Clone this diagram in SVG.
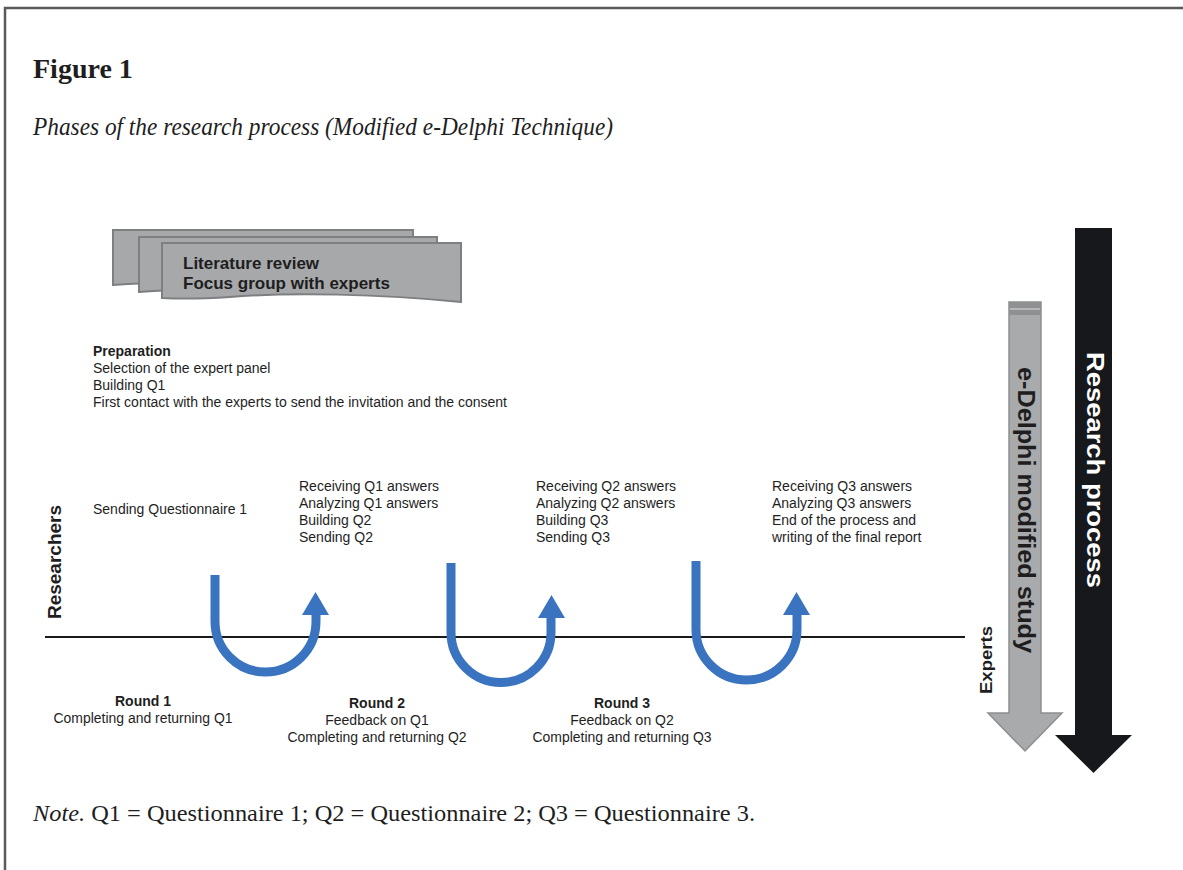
<svg xmlns="http://www.w3.org/2000/svg" width="1183" height="870" viewBox="0 0 1183 870">
<defs>
<style>
.sans{font-family:"Liberation Sans",Arial,sans-serif;fill:#1e1e1e}
.serif{font-family:"Liberation Serif","Times New Roman",serif;fill:#1e1e1e}
.t14{font-size:14px}
.b{font-weight:bold}
.doc{fill:#a7a8aa;stroke:#7e7f81;stroke-width:2}
.u{fill:none;stroke:#3a73bf;stroke-width:9}
.head{fill:#3a73bf}
</style>
</defs>
<rect width="1183" height="870" fill="#ffffff"/>
<path d="M5,870 V8 H1183" fill="none" stroke="#5a5a5a" stroke-width="2.5"/>

<text class="serif b" x="33" y="78" font-size="28">Figure 1</text>
<text class="serif" x="33" y="135" font-size="26" font-style="italic" textLength="580" lengthAdjust="spacingAndGlyphs">Phases of the research process (Modified e-Delphi Technique)</text>

<g id="lit-review">
<path class="doc" d="M113,230 H413 V283 C330,290 200,278 113,285 Z"/>
<path class="doc" d="M139,237 H437 V290 C350,297 220,285 139,292 Z"/>
<path class="doc" d="M162,243 H461 V302 C380,294 290,292 230,297 C200,299 180,299 162,298 Z"/>
<text class="sans b" x="183" y="269" font-size="17">Literature review</text>
<text class="sans b" x="183" y="289" font-size="17">Focus group with experts</text>
</g>

<g id="preparation" class="sans t14">
<text class="b" x="93" y="356">Preparation</text>
<text x="93" y="373">Selection of the expert panel</text>
<text x="93" y="390">Building Q1</text>
<text x="93" y="407">First contact with the experts to send the invitation and the consent</text>
</g>

<g id="researchers-label">
<text class="sans b" transform="translate(61,562) rotate(-90)" text-anchor="middle" font-size="19">Researchers</text>
</g>

<g id="send-q1" class="sans t14">
<text x="93" y="514">Sending Questionnaire 1</text>
</g>
<g id="step-q1" class="sans t14">
<text x="299" y="491">Receiving Q1 answers</text>
<text x="299" y="508">Analyzing Q1 answers</text>
<text x="299" y="525">Building Q2</text>
<text x="299" y="542">Sending Q2</text>
</g>
<g id="step-q2" class="sans t14">
<text x="536" y="491">Receiving Q2 answers</text>
<text x="536" y="508">Analyzing Q2 answers</text>
<text x="536" y="525">Building Q3</text>
<text x="536" y="542">Sending Q3</text>
</g>
<g id="step-q3" class="sans t14">
<text x="772" y="491">Receiving Q3 answers</text>
<text x="772" y="508">Analyzing Q3 answers</text>
<text x="772" y="525">End of the process and</text>
<text x="772" y="542">writing of the final report</text>
</g>

<g id="connectors">
<line x1="45" y1="637" x2="965" y2="637" stroke="#1a1a1a" stroke-width="2"/>
<path class="u" d="M215,575 V621.5 A50.5,50.5 0 0 0 316,621.5 V612"/>
<polygon class="head" points="302,615 329,615 315.5,592"/>
<path class="u" d="M451,563 V632.5 A50,50 0 0 0 551,632.5 V615"/>
<polygon class="head" points="538,618 565,618 551.5,595"/>
<path class="u" d="M696,561 V629.5 A50.5,50.5 0 0 0 797,629.5 V612"/>
<polygon class="head" points="783,615 810,615 796.5,592"/>
</g>

<g id="round1" class="sans t14" text-anchor="middle">
<text class="b" x="143" y="706">Round 1</text>
<text x="143" y="723" textLength="179" lengthAdjust="spacingAndGlyphs">Completing and returning Q1</text>
</g>
<g id="round2" class="sans t14" text-anchor="middle">
<text class="b" x="377" y="708">Round 2</text>
<text x="377" y="725">Feedback on Q1</text>
<text x="377" y="742" textLength="179" lengthAdjust="spacingAndGlyphs">Completing and returning Q2</text>
</g>
<g id="round3" class="sans t14" text-anchor="middle">
<text class="b" x="622" y="708">Round 3</text>
<text x="622" y="725">Feedback on Q2</text>
<text x="622" y="742" textLength="179" lengthAdjust="spacingAndGlyphs">Completing and returning Q3</text>
</g>

<g id="experts-label">
<text class="sans b" transform="translate(992,660) rotate(-90)" text-anchor="middle" font-size="17" textLength="68" lengthAdjust="spacingAndGlyphs">Experts</text>
</g>

<g id="delphi-arrow">
<polygon points="1009,302 1041,302 1041,713 1062,713 1025,751 988,713 1009,713" fill="#a9aaac" stroke="#8d8e90" stroke-width="1.5"/>
<rect x="1009" y="302" width="32" height="13" fill="#8e9092"/>
<line x1="1010" y1="309" x2="1040" y2="309" stroke="#c4c5c7" stroke-width="1.5"/>
<text class="sans b" transform="translate(1018,510) rotate(90)" text-anchor="middle" font-size="23" fill="#1a1a1a" textLength="286" lengthAdjust="spacingAndGlyphs">e-Delphi modified study</text>
</g>

<g id="research-arrow">
<polygon points="1075,228 1112,228 1112,735 1132,735 1093.5,773 1055,735 1075,735" fill="#17181b"/>
<text transform="translate(1086.5,470) rotate(90)" text-anchor="middle" font-family="Liberation Sans, Arial, sans-serif" font-weight="bold" font-size="23" fill="#ffffff" textLength="236" lengthAdjust="spacingAndGlyphs">Research process</text>
</g>

<text class="serif" x="33" y="821" font-size="24" textLength="722" lengthAdjust="spacingAndGlyphs"><tspan font-style="italic">Note.</tspan> Q1 = Questionnaire 1; Q2 = Questionnaire 2; Q3 = Questionnaire 3.</text>
</svg>
